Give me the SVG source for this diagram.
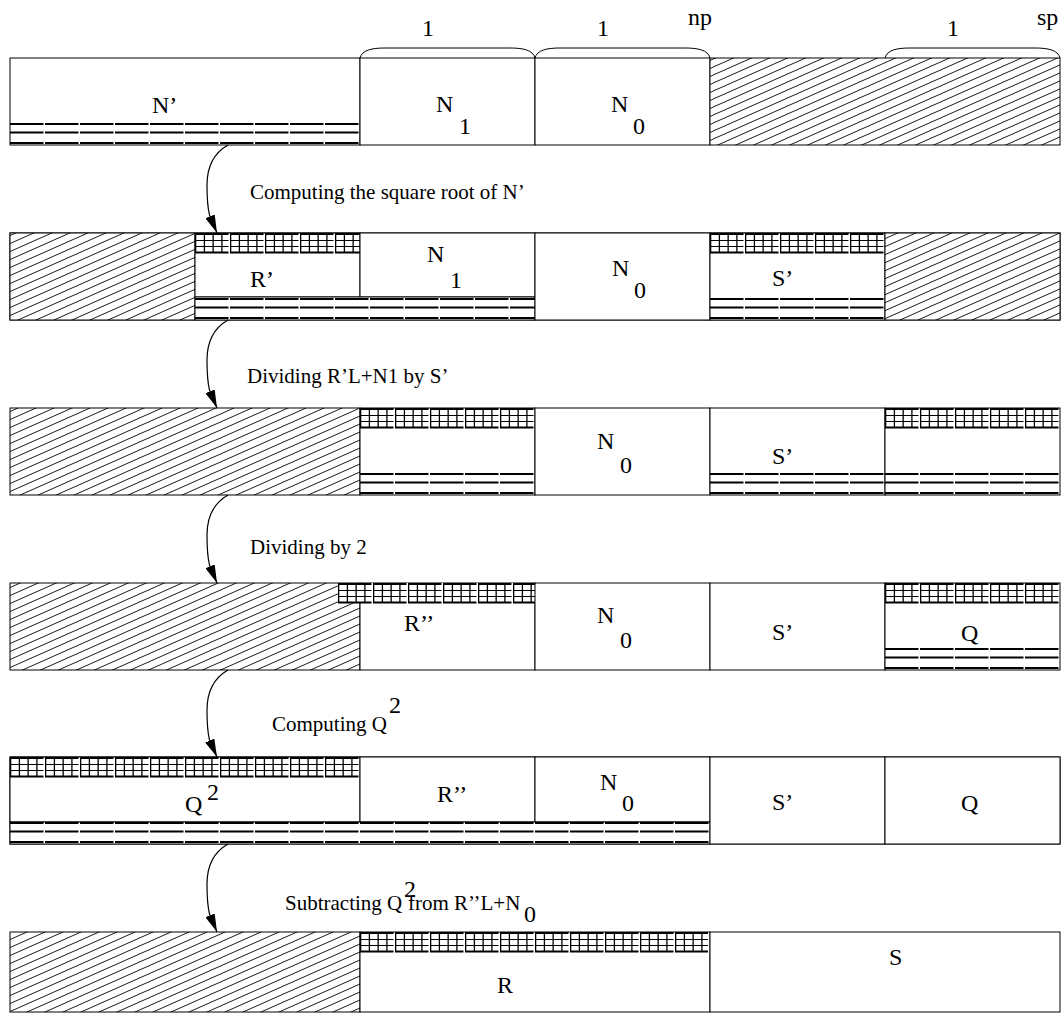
<svg xmlns="http://www.w3.org/2000/svg" width="1063" height="1014" viewBox="0 0 1063 1014">
<style>
.box{fill:#fff;stroke:#000;stroke-width:1}
.hatch{fill:url(#hatch);stroke:#000;stroke-width:1}
.t{font-family:"Liberation Serif","Times New Roman",serif;font-size:24px;fill:#000}
.s{font-size:21px}
.db{stroke:#000;stroke-width:1.8;stroke-dasharray:33.5 1.5;fill:none}
.gh{stroke:#000;stroke-width:1.2;stroke-dasharray:33.5 1.5}
.gh2{stroke:#000;stroke-width:2;stroke-dasharray:33.5 1.5}
.gv{stroke:#000;stroke-width:20;stroke-dasharray:1.3 7.45}
.conn{fill:none;stroke:#000;stroke-width:1.2;marker-end:url(#ah)}
.brace{fill:none;stroke:#000;stroke-width:1}
</style>
<defs>
<pattern id="hatch" patternUnits="userSpaceOnUse" width="18" height="8">
<rect width="18" height="8" fill="#fff"/>
<path d="M-2,8.9 L20,-0.9 M-20,8.9 L2,-0.9 M16,8.9 L38,-0.9" stroke="#000" stroke-width="0.9"/>
</pattern>
<marker id="ah" markerUnits="userSpaceOnUse" viewBox="0 0 18 10" refX="18" refY="5" markerWidth="18" markerHeight="10" orient="auto">
<path d="M0,0 L18,5 L0,10 z" fill="#000"/>
</marker>
</defs>

<g id="row1">
<g id="r1-Nprime">
<rect class="box" x="10" y="58" width="350" height="87"/>
<line class="db" x1="10" y1="124" x2="360" y2="124"/>
<line class="db" x1="10" y1="132.5" x2="360" y2="132.5"/>
<line class="db" x1="10" y1="143" x2="360" y2="143"/>
<text class="t" x="152" y="113">N’</text>
</g>
<g id="r1-N1">
<rect class="box" x="360" y="58" width="175" height="87"/>
<text class="t" x="436" y="112">N</text><text class="t" x="459" y="134">1</text>
</g>
<g id="r1-N0">
<rect class="box" x="535" y="58" width="175" height="87"/>
<text class="t" x="611" y="112">N</text><text class="t" x="633" y="134">0</text>
</g>
<g id="r1-free">
<rect class="hatch" x="710" y="58" width="350" height="87"/>
</g>
<g id="braces">
<path class="brace" d="M360,58 C362,50 372,48 385,48 L510,48 C523,48 533,50 535,58"/>
<path class="brace" d="M535,58 C537,50 547,48 560,48 L685,48 C698,48 708,50 710,58"/>
<path class="brace" d="M885,58 C887,50 897,48 910,48 L1035,48 C1048,48 1058,50 1060,58"/>
<text class="t" x="428" y="36" text-anchor="middle">1</text>
<text class="t" x="603" y="36" text-anchor="middle">1</text>
<text class="t" x="688" y="25">np</text>
<text class="t" x="953" y="36" text-anchor="middle">1</text>
<text class="t" x="1037" y="25">sp</text>
</g>
</g>

<g id="row2">
<rect class="box" x="10" y="233" width="1050" height="87"/>
<g id="r2-free-left"><rect class="hatch" x="10" y="233" width="185" height="87"/></g>
<g id="r2-Rprime">
<rect class="box" x="195" y="233" width="165" height="64"/>
<line class="gv" x1="195" y1="243" x2="360" y2="243"/>
<line class="gh2" x1="195" y1="234" x2="360" y2="234"/>
<line class="gh" x1="195" y1="240.5" x2="360" y2="240.5"/>
<line class="gh" x1="195" y1="246.5" x2="360" y2="246.5"/>
<line class="gh2" x1="195" y1="252.5" x2="360" y2="252.5"/>
<text class="t" x="250" y="287">R’</text>
</g>
<g id="r2-N1">
<rect class="box" x="360" y="233" width="175" height="64"/>
<text class="t" x="427" y="262">N</text><text class="t" x="450" y="288">1</text>
</g>
<g id="r2-band">
<rect class="box" x="195" y="297" width="340" height="23"/>
<line class="db" x1="195" y1="299" x2="535" y2="299"/>
<line class="db" x1="195" y1="307.5" x2="535" y2="307.5"/>
<line class="db" x1="195" y1="318" x2="535" y2="318"/>
</g>
<g id="r2-N0">
<rect class="box" x="535" y="233" width="175" height="87"/>
<text class="t" x="612" y="276">N</text><text class="t" x="634" y="298">0</text>
</g>
<g id="r2-Sprime">
<rect class="box" x="710" y="233" width="175" height="87"/>
<line class="gv" x1="710" y1="243" x2="885" y2="243"/>
<line class="gh2" x1="710" y1="234" x2="885" y2="234"/>
<line class="gh" x1="710" y1="240.5" x2="885" y2="240.5"/>
<line class="gh" x1="710" y1="246.5" x2="885" y2="246.5"/>
<line class="gh2" x1="710" y1="252.5" x2="885" y2="252.5"/>
<line class="db" x1="710" y1="299" x2="885" y2="299"/>
<line class="db" x1="710" y1="307.5" x2="885" y2="307.5"/>
<line class="db" x1="710" y1="318" x2="885" y2="318"/>
<text class="t" x="772" y="286">S’</text>
</g>
<g id="r2-free-right"><rect class="hatch" x="885" y="233" width="175" height="87"/></g>
</g>

<g id="row3">
<g id="r3-free"><rect class="hatch" x="10" y="408" width="350" height="87"/></g>
<g id="r3-quot">
<rect class="box" x="360" y="408" width="175" height="87"/>
<line class="gv" x1="360" y1="418" x2="535" y2="418"/>
<line class="gh2" x1="360" y1="409" x2="535" y2="409"/>
<line class="gh" x1="360" y1="415.5" x2="535" y2="415.5"/>
<line class="gh" x1="360" y1="421.5" x2="535" y2="421.5"/>
<line class="gh2" x1="360" y1="427.5" x2="535" y2="427.5"/>
<line class="db" x1="360" y1="474" x2="535" y2="474"/>
<line class="db" x1="360" y1="482.5" x2="535" y2="482.5"/>
<line class="db" x1="360" y1="493" x2="535" y2="493"/>
</g>
<g id="r3-N0">
<rect class="box" x="535" y="408" width="175" height="87"/>
<text class="t" x="597" y="449">N</text><text class="t" x="620" y="473">0</text>
</g>
<g id="r3-Sprime">
<rect class="box" x="710" y="408" width="175" height="87"/>
<text class="t" x="772" y="464">S’</text>
</g>
<g id="r3-rem">
<rect class="box" x="885" y="408" width="175" height="87"/>
<line class="gv" x1="885" y1="418" x2="1060" y2="418"/>
<line class="gh2" x1="885" y1="409" x2="1060" y2="409"/>
<line class="gh" x1="885" y1="415.5" x2="1060" y2="415.5"/>
<line class="gh" x1="885" y1="421.5" x2="1060" y2="421.5"/>
<line class="gh2" x1="885" y1="427.5" x2="1060" y2="427.5"/>
</g>
<g id="r3-band">
<line class="db" x1="710" y1="474" x2="1060" y2="474"/>
<line class="db" x1="710" y1="482.5" x2="1060" y2="482.5"/>
<line class="db" x1="710" y1="493" x2="1060" y2="493"/>
</g>
</g>

<g id="row4">
<g id="r4-free"><rect class="hatch" x="10" y="583" width="350" height="87"/></g>
<g id="r4-Rpp">
<rect class="box" x="360" y="583" width="175" height="87"/>
<text class="t" x="404" y="631">R’’</text>
</g>
<g id="r4-grid">
<rect fill="#fff" x="338" y="583" width="197" height="20"/>
<line class="gv" x1="338" y1="593" x2="535" y2="593"/>
<line class="gh2" x1="338" y1="584" x2="535" y2="584"/>
<line class="gh" x1="338" y1="590.5" x2="535" y2="590.5"/>
<line class="gh" x1="338" y1="596.5" x2="535" y2="596.5"/>
<line class="gh2" x1="338" y1="602.5" x2="535" y2="602.5"/>
</g>
<g id="r4-N0">
<rect class="box" x="535" y="583" width="175" height="87"/>
<text class="t" x="597" y="623">N</text><text class="t" x="620" y="648">0</text>
</g>
<g id="r4-Sprime">
<rect class="box" x="710" y="583" width="175" height="87"/>
<text class="t" x="772" y="640">S’</text>
</g>
<g id="r4-Q">
<rect class="box" x="885" y="583" width="175" height="87"/>
<line class="gv" x1="885" y1="593" x2="1060" y2="593"/>
<line class="gh2" x1="885" y1="584" x2="1060" y2="584"/>
<line class="gh" x1="885" y1="590.5" x2="1060" y2="590.5"/>
<line class="gh" x1="885" y1="596.5" x2="1060" y2="596.5"/>
<line class="gh2" x1="885" y1="602.5" x2="1060" y2="602.5"/>
<line class="db" x1="885" y1="649" x2="1060" y2="649"/>
<line class="db" x1="885" y1="657.5" x2="1060" y2="657.5"/>
<line class="db" x1="885" y1="668" x2="1060" y2="668"/>
<text class="t" x="961" y="641">Q</text>
</g>
</g>

<g id="row5">
<rect class="box" x="10" y="757" width="1050" height="87"/>
<g id="r5-Q2">
<rect class="box" x="10" y="757" width="350" height="65"/>
<line class="gv" x1="10" y1="767" x2="360" y2="767"/>
<line class="gh2" x1="10" y1="758" x2="360" y2="758"/>
<line class="gh" x1="10" y1="764.5" x2="360" y2="764.5"/>
<line class="gh" x1="10" y1="770.5" x2="360" y2="770.5"/>
<line class="gh2" x1="10" y1="776.5" x2="360" y2="776.5"/>
<text class="t" x="185" y="812">Q</text><text class="t" x="207" y="800">2</text>
</g>
<g id="r5-Rpp">
<rect class="box" x="360" y="757" width="175" height="65"/>
<text class="t" x="437" y="802">R’’</text>
</g>
<g id="r5-N0">
<rect class="box" x="535" y="757" width="175" height="65"/>
<text class="t" x="600" y="790">N</text><text class="t" x="622" y="811">0</text>
</g>
<g id="r5-band">
<rect class="box" x="10" y="822" width="700" height="22"/>
<line class="db" x1="10" y1="823" x2="710" y2="823"/>
<line class="db" x1="10" y1="831.5" x2="710" y2="831.5"/>
<line class="db" x1="10" y1="842" x2="710" y2="842"/>
</g>
<g id="r5-Sprime">
<rect class="box" x="710" y="757" width="175" height="87"/>
<text class="t" x="772" y="810">S’</text>
</g>
<g id="r5-Q">
<rect class="box" x="885" y="757" width="175" height="87"/>
<text class="t" x="961" y="811">Q</text>
</g>
</g>

<g id="row6">
<g id="r6-free"><rect class="hatch" x="10" y="932" width="350" height="80"/></g>
<g id="r6-R">
<rect class="box" x="360" y="932" width="350" height="80"/>
<line class="gv" x1="360" y1="942" x2="708" y2="942"/>
<line class="gh2" x1="360" y1="933" x2="708" y2="933"/>
<line class="gh" x1="360" y1="939.5" x2="708" y2="939.5"/>
<line class="gh" x1="360" y1="945.5" x2="708" y2="945.5"/>
<line class="gh2" x1="360" y1="951.5" x2="708" y2="951.5"/>
<text class="t" x="497" y="993">R</text>
</g>
<g id="r6-S">
<rect class="box" x="710" y="932" width="350" height="80"/>
<text class="t" x="889" y="965">S</text>
</g>
</g>

<g id="connectors">
<path class="conn" d="M228,145 C214,153 207,167 207,185 C207,201 208,209 209.5,215 L217,233"/>
<path class="conn" d="M228,320 C214,328 207,342 207,360 C207,376 208,384 209.5,390 L217,408"/>
<path class="conn" d="M228,495 C214,503 207,517 207,535 C207,551 208,559 209.5,565 L217,583"/>
<path class="conn" d="M228,670 C214,678 207,692 207,710 C207,726 208,734 209.5,740 L217,757"/>
<path class="conn" d="M228,844 C214,852 207,866 207,884 C207,900 208,908 209.5,914 L217,932"/>
<text class="t s" x="250" y="199">Computing the square root of N’</text>
<text class="t s" x="247" y="383">Dividing R’L+N1 by S’</text>
<text class="t s" x="250" y="554">Dividing by 2</text>
<text class="t s" x="272" y="731">Computing Q</text><text class="t" x="389" y="713">2</text>
<text class="t s" x="285" y="910">Subtracting Q</text><text class="t" x="404" y="897">2</text>
<text class="t s" x="408" y="910">from R’’L+N</text><text class="t" x="524" y="922">0</text>
</g>
</svg>
